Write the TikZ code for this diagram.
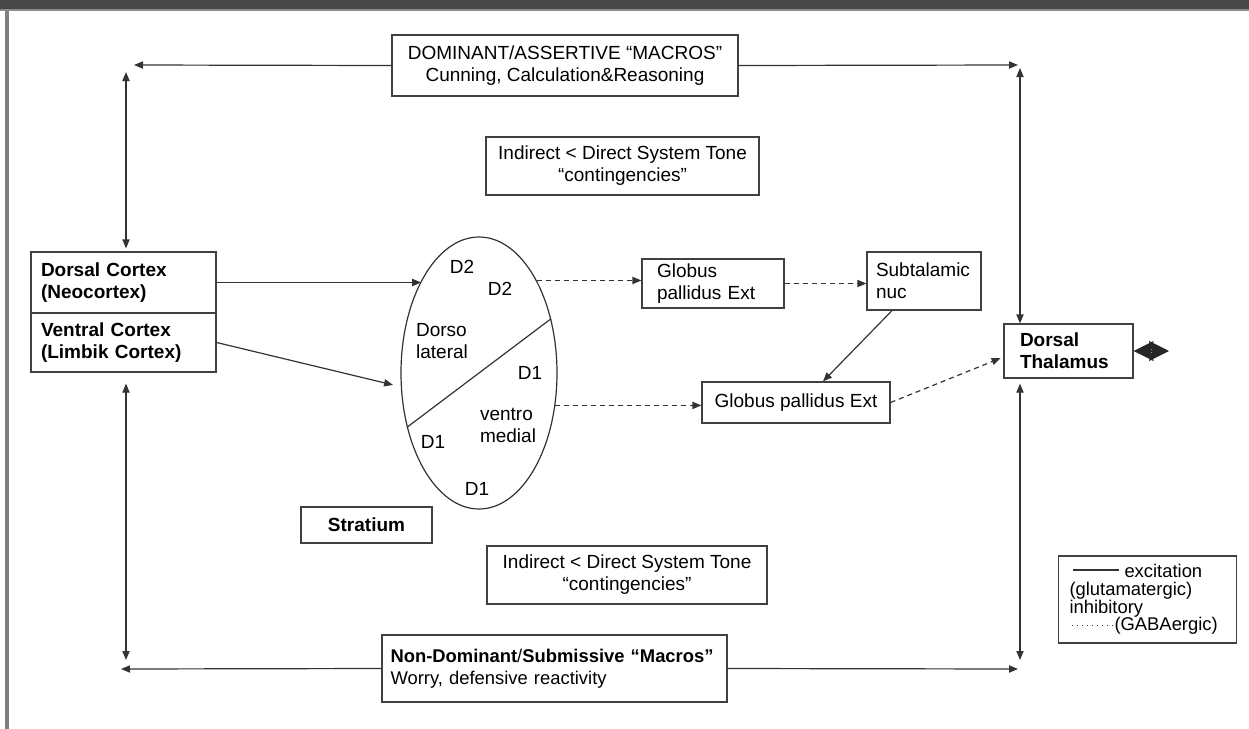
\documentclass[tikz,border=0pt]{standalone}
\usepackage{fontspec}
\setmainfont{Liberation Sans}
\usepackage{tikz}
\usetikzlibrary{positioning, shapes.geometric, arrows.meta}
\tikzset{
  box/.style={draw=black!75, line width=0.6pt, fill=white, font=\fontsize{9.5}{11}\selectfont,
              align=center, inner sep=2pt},
  lbox/.style={box, align=left},
  bbox/.style={lbox, font=\fontsize{9.5}{11}\selectfont\bfseries},
  conn/.style={-{Triangle[length=4.5pt,width=3.6pt]}, line width=0.6pt, draw=black!80},
  both/.style={{Triangle[length=4.5pt,width=3.6pt]}-{Triangle[length=4.5pt,width=3.6pt]},
               line width=0.6pt, draw=black!80},
  inh/.style={conn, dash pattern=on 2.5pt off 2pt},
  lbl/.style={font=\fontsize{9.5}{11}\selectfont, inner sep=0pt}
}

\begin{document}
\begin{tikzpicture}[x=0.5pt, y=-0.5pt]
  \useasboundingbox (0,0) rectangle (1249,729);
  % frame
  \fill[black!72] (0,0) rectangle (1249,9);
  \fill[black!45] (0,9) rectangle (1249,11);
  \fill[black!50] (5,11) rectangle (9,729);
  % Top and bottom
  \node[box, minimum width=173pt, minimum height=30.5pt] (dom) at (565,65.5) {DOMINANT/ASSERTIVE “MACROS”\\Cunning, Calculation\&Reasoning};
  \node[box, minimum width=136.5pt, minimum height=29pt] (tonea) at (622.5,166) {Indirect < Direct System Tone\\“contingencies”};
  \node[box, minimum width=140pt, minimum height=29pt] (toneb) at (627,575) {Indirect < Direct System Tone\\“contingencies”};
  \node[lbox, font=\fontsize{9.2}{11}\selectfont, text width=164pt, inner xsep=4.25pt, minimum height=33.5pt] (nondom) at (554.5,668.5) {\textbf{Non-Dominant}/\textbf{Submissive “Macros”}\\Worry, defensive reactivity};
  % Cortex
  \node[bbox, text width=82.5pt, inner xsep=5pt, minimum height=30.5pt] (dors) at (123.5,282.5) {Dorsal Cortex\\(Neocortex)};
  \node[bbox, text width=82.5pt, inner xsep=5pt, minimum height=29.5pt] (vent) at (123.5,342.5) {Ventral Cortex\\(Limbik Cortex)};
  % Striatum
  \node[draw=black!80, line width=0.6pt, ellipse, minimum width=78pt, minimum height=136pt, inner sep=0pt] (ell) at (479,373) {};
  \draw[line width=0.6pt, draw=black!80] (ell.217) -- (ell.37);
  \node[lbl] (d2a) at (462,267) {D2};
  \node[lbl] (d2b) at (500,289) {D2};
  \node[lbl, align=left] (dl) at (442,341) {Dorso\\lateral};
  \node[lbl] (d1a) at (530,373) {D1};
  \node[lbl, align=left] (vm) at (508,425) {ventro\\medial};
  \node[lbl] (d1b) at (433,442) {D1};
  \node[lbl] (d1c) at (477,489) {D1};
  \node[bbox, align=center, minimum width=65.5pt, minimum height=18pt] (strat) at (366.5,525) {Stratium};
  % Basal ganglia loop
  \node[lbox, text width=56pt, inner xsep=7.5pt, minimum height=24.5pt] (gpa) at (713,283.5) {Globus\\pallidus Ext};
  \node[lbox, text width=48pt, inner xsep=4.5pt, minimum height=29pt] (stn) at (924,281) {Subtalamic\\nuc};
  \node[box, minimum width=94pt, minimum height=20.5pt] (gpb) at (796,402.5) {Globus pallidus Ext};
  \node[bbox, text width=48.5pt, inner xsep=8pt, minimum height=27pt] (thal) at (1068.5,351) {Dorsal\\Thalamus};
  % Legend
  \node[lbox, font=\fontsize{9.2}{8.8}\selectfont, text width=78pt, inner xsep=5.5pt, minimum height=43.5pt] (legend) at (1147.5,599.5) {\hspace*{27.5pt}excitation\\(glutamatergic)\\inhibitory\\\hspace*{22.5pt}(GABAergic)};
  \coordinate (exa) at (1073,570);
  \coordinate (exb) at (1119,570);
  \coordinate (ina) at (1072,625);
  \coordinate (inb) at (1116,625);
  \draw[line width=0.6pt, black!80] (exa) -- (exb);
  \draw[line width=0.5pt, black!80, dash pattern=on 0.6pt off 1.9pt] (ina) -- (inb);
  % corners
  \coordinate (tl) at (126,65);
  \coordinate (tr) at (1020,65);
  \coordinate (bl) at (126,669);
  \coordinate (br) at (1020,669);
  \coordinate (tip) at (1169,351);
  % Connections
  \draw[conn] (dom.west) -- ([xshift=4pt]tl);
  \draw[conn] (dom.east) -- ([xshift=-1pt]tr);
  \draw[conn] (nondom.west) -- ([xshift=-2.5pt]bl);
  \draw[conn] (nondom.east) -- ([xshift=-1pt]br);
  \draw[both, shorten <=3.5pt, shorten >=1.5pt] (tl) -- (tl |- dors.north);
  \draw[both, shorten <=5.5pt, shorten >=4.5pt] (tl |- vent.south) -- (bl);
  \draw[both, shorten <=1.5pt] (tr) -- (tr |- thal.north);
  \draw[both, shorten <=2.5pt, shorten >=4.5pt] (tr |- thal.south) -- (br);
  \draw[conn] (dors.east) -- (dors.east -| ell.122);
  \draw[conn, shorten >=4pt] (vent.east) -- (ell.190);
  \draw[inh] (ell.58) -- (ell.58 -| gpa.west);
  \draw[inh] (gpa.east) -- (gpa.east -| stn.west);
  \draw[conn] ([xshift=-16pt]stn.south) -- ([xshift=13.5pt]gpb.north);
  \draw[inh] (ell.-23) -- (ell.-23 -| gpb.west);
  \draw[inh, shorten >=1.5pt] (gpb.east) -- ([yshift=-3pt]thal.west);
  \draw[{Stealth[length=10pt,width=10pt,inset=1.5pt]}-{Stealth[length=10pt,width=10pt,inset=1.5pt]}, line width=0.6pt, draw=black!85, fill=black!85] (thal.east) -- (tip);
\end{tikzpicture}
\end{document}
